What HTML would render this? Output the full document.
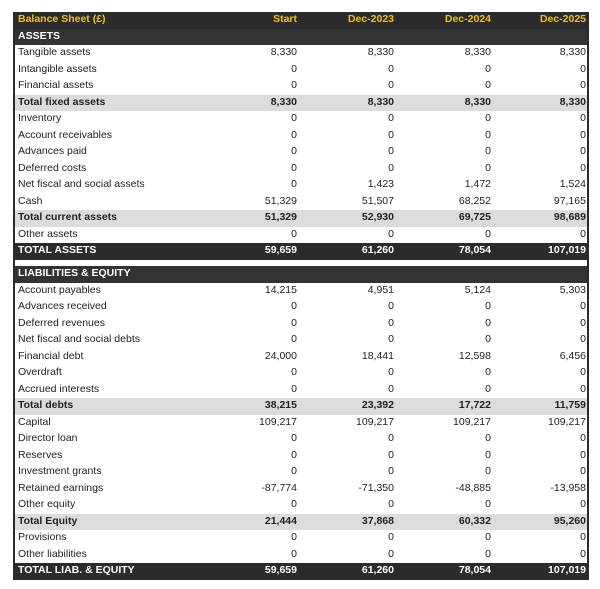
<!DOCTYPE html><html><head><style>
body{margin:0;width:600px;height:589px;background:#fff;font-family:"Liberation Sans",sans-serif;font-size:10.5px;color:#222;position:relative;overflow:hidden}
.t{position:absolute;left:13px;width:572px;border-left:2px solid #2b2b2b;border-right:2px solid #2b2b2b}
.r{height:16.5px;line-height:15.5px;position:relative}
.r span{position:absolute;top:0}
.r span:first-child{left:3px}
.c1{right:290px}.c2{right:193px}.c3{right:96px}.c4{right:1px}
.h{background:#2b2b2b;color:#f2c200;font-weight:bold}
.s{background:#333;color:#fff;font-weight:bold}
.tt{background:#dcdcdc;font-weight:bold}
.g{background:#2b2b2b;color:#fff;font-weight:bold}
</style></head><body>
<div class="t" style="top:12px">
<div class="r h"><span>Balance Sheet (£)</span><span class="c1">Start</span><span class="c2">Dec-2023</span><span class="c3">Dec-2024</span><span class="c4">Dec-2025</span></div>
<div class="r s"><span>ASSETS</span></div>
<div class="r"><span>Tangible assets</span><span class="c1">8,330</span><span class="c2">8,330</span><span class="c3">8,330</span><span class="c4">8,330</span></div>
<div class="r"><span>Intangible assets</span><span class="c1">0</span><span class="c2">0</span><span class="c3">0</span><span class="c4">0</span></div>
<div class="r"><span>Financial assets</span><span class="c1">0</span><span class="c2">0</span><span class="c3">0</span><span class="c4">0</span></div>
<div class="r tt"><span>Total fixed assets</span><span class="c1">8,330</span><span class="c2">8,330</span><span class="c3">8,330</span><span class="c4">8,330</span></div>
<div class="r"><span>Inventory</span><span class="c1">0</span><span class="c2">0</span><span class="c3">0</span><span class="c4">0</span></div>
<div class="r"><span>Account receivables</span><span class="c1">0</span><span class="c2">0</span><span class="c3">0</span><span class="c4">0</span></div>
<div class="r"><span>Advances paid</span><span class="c1">0</span><span class="c2">0</span><span class="c3">0</span><span class="c4">0</span></div>
<div class="r"><span>Deferred costs</span><span class="c1">0</span><span class="c2">0</span><span class="c3">0</span><span class="c4">0</span></div>
<div class="r"><span>Net fiscal and social assets</span><span class="c1">0</span><span class="c2">1,423</span><span class="c3">1,472</span><span class="c4">1,524</span></div>
<div class="r"><span>Cash</span><span class="c1">51,329</span><span class="c2">51,507</span><span class="c3">68,252</span><span class="c4">97,165</span></div>
<div class="r tt"><span>Total current assets</span><span class="c1">51,329</span><span class="c2">52,930</span><span class="c3">69,725</span><span class="c4">98,689</span></div>
<div class="r"><span>Other assets</span><span class="c1">0</span><span class="c2">0</span><span class="c3">0</span><span class="c4">0</span></div>
<div class="r g"><span>TOTAL ASSETS</span><span class="c1">59,659</span><span class="c2">61,260</span><span class="c3">78,054</span><span class="c4">107,019</span></div>
<div style="height:6.5px"></div>
<div class="r s"><span>LIABILITIES &amp; EQUITY</span></div>
<div class="r"><span>Account payables</span><span class="c1">14,215</span><span class="c2">4,951</span><span class="c3">5,124</span><span class="c4">5,303</span></div>
<div class="r"><span>Advances received</span><span class="c1">0</span><span class="c2">0</span><span class="c3">0</span><span class="c4">0</span></div>
<div class="r"><span>Deferred revenues</span><span class="c1">0</span><span class="c2">0</span><span class="c3">0</span><span class="c4">0</span></div>
<div class="r"><span>Net fiscal and social debts</span><span class="c1">0</span><span class="c2">0</span><span class="c3">0</span><span class="c4">0</span></div>
<div class="r"><span>Financial debt</span><span class="c1">24,000</span><span class="c2">18,441</span><span class="c3">12,598</span><span class="c4">6,456</span></div>
<div class="r"><span>Overdraft</span><span class="c1">0</span><span class="c2">0</span><span class="c3">0</span><span class="c4">0</span></div>
<div class="r"><span>Accrued interests</span><span class="c1">0</span><span class="c2">0</span><span class="c3">0</span><span class="c4">0</span></div>
<div class="r tt"><span>Total debts</span><span class="c1">38,215</span><span class="c2">23,392</span><span class="c3">17,722</span><span class="c4">11,759</span></div>
<div class="r"><span>Capital</span><span class="c1">109,217</span><span class="c2">109,217</span><span class="c3">109,217</span><span class="c4">109,217</span></div>
<div class="r"><span>Director loan</span><span class="c1">0</span><span class="c2">0</span><span class="c3">0</span><span class="c4">0</span></div>
<div class="r"><span>Reserves</span><span class="c1">0</span><span class="c2">0</span><span class="c3">0</span><span class="c4">0</span></div>
<div class="r"><span>Investment grants</span><span class="c1">0</span><span class="c2">0</span><span class="c3">0</span><span class="c4">0</span></div>
<div class="r"><span>Retained earnings</span><span class="c1">-87,774</span><span class="c2">-71,350</span><span class="c3">-48,885</span><span class="c4">-13,958</span></div>
<div class="r"><span>Other equity</span><span class="c1">0</span><span class="c2">0</span><span class="c3">0</span><span class="c4">0</span></div>
<div class="r tt"><span>Total Equity</span><span class="c1">21,444</span><span class="c2">37,868</span><span class="c3">60,332</span><span class="c4">95,260</span></div>
<div class="r"><span>Provisions</span><span class="c1">0</span><span class="c2">0</span><span class="c3">0</span><span class="c4">0</span></div>
<div class="r"><span>Other liabilities</span><span class="c1">0</span><span class="c2">0</span><span class="c3">0</span><span class="c4">0</span></div>
<div class="r g"><span>TOTAL LIAB. &amp; EQUITY</span><span class="c1">59,659</span><span class="c2">61,260</span><span class="c3">78,054</span><span class="c4">107,019</span></div>
</div>
</body></html>
